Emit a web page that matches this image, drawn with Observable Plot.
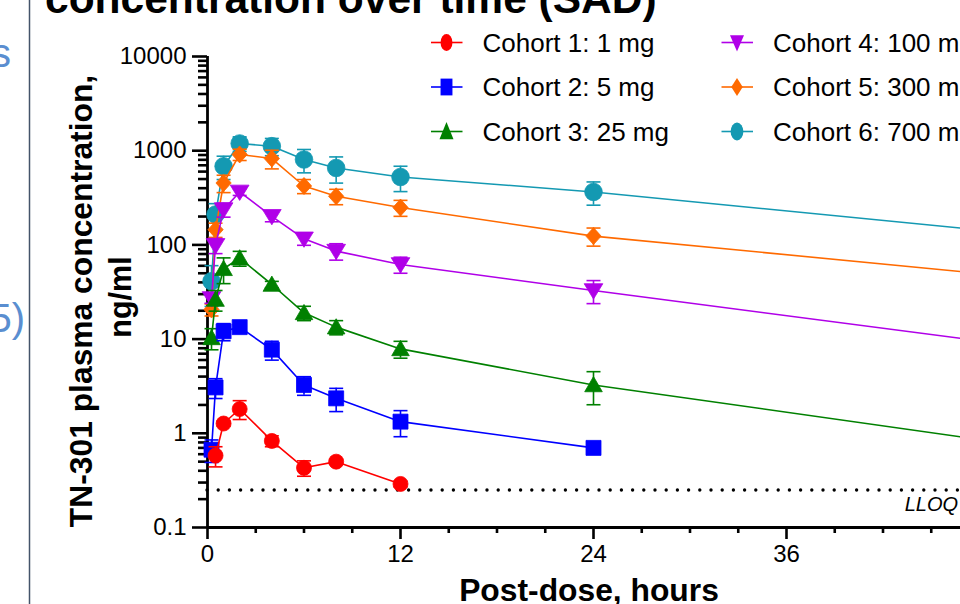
<!DOCTYPE html>
<html><head><meta charset="utf-8">
<script src="https://cdn.jsdelivr.net/npm/d3@7"></script>
<script src="https://cdn.jsdelivr.net/npm/@observablehq/plot@0.6"></script>
<style>
body{margin:0;background:#fff;overflow:hidden}
#wrap{position:relative;width:960px;height:604px;overflow:hidden;font-family:"Liberation Sans",Arial,sans-serif;background:#fff}
#wrap svg{position:absolute;left:0;top:0;max-width:none !important}
</style></head><body><div id="wrap"></div>
<script>
// ---- data ----
const times = [0.25, 0.5, 1, 2, 4, 6, 8, 12, 24, 48];
const cohortNames = ["Cohort 1: 1 mg","Cohort 2: 5 mg","Cohort 3: 25 mg","Cohort 4: 100 mg","Cohort 5: 300 mg","Cohort 6: 700 mg"];
const colors = ["#ff0000","#0000ff","#008000","#b000e8","#ff6a00","#1499b2"];
const c1Mean = [null, 0.58, 1.27, 1.81, 0.83, 0.43, 0.50, 0.29, null, null];
const c1SD   = [null, 0.14, 0.08, 0.41, 0.11, 0.08, 0.03, 0.02, null, null];
const c2Mean = [0.67, 3.07, 12.1, 13.4, 7.73, 3.26, 2.35, 1.33, 0.70, null];
const c2SD   = [0.18, 0.73, 2.5, 0.8, 1.75, 0.73, 0.65, 0.41, 0.08, null];
const c3Mean = [10.3, 26.3, 55.8, 72.4, 38, 19.0, 13.4, 7.87, 3.26, 0.86];
const c3SD   = [2.6, 6.5, 17, 13, 3, 3.3, 2.3, 1.6, 1.25, null];
const c4Mean = [27.0, 98.8, 237, 365, 201, 116, 85.9, 62, 32.8, 9.6];
const c4SD   = [3, 18, 40, 30, 25, 17, 17, 12, 9, null];
const c5Mean = [20.6, 145, 454, 912, 826, 422, 328, 249, 124, 49.9];
const c5SD   = [3, 25, 95, 125, 185, 72, 61, 48, 27, null];
const c6Mean = [41.2, 210, 684, 1193, 1117, 806, 656, 526, 365, 144];
const c6SD   = [19, 64, 190, 210, 232, 224, 203, 158, 101, null];
const lloq = 0.25;
const xMajorTicks = [0, 12, 24, 36, 48];
const xMinorTicks = [3, 6, 9, 15, 18, 21, 27, 30, 33, 39, 42, 45];
const yMajorTicks = [0.1, 1, 10, 100, 1000, 10000];
const yTickLabels = ["0.1", "1", "10", "100", "1000", "10000"];
const yMinorTicks = [0.2,0.3,0.4,0.5,0.6,0.7,0.8,0.9,2,3,4,5,6,7,8,9,20,30,40,50,60,70,80,90,200,300,400,500,600,700,800,900,2000,3000,4000,5000,6000,7000,8000,9000];

const means = [c1Mean, c2Mean, c3Mean, c4Mean, c5Mean, c6Mean];
const sds = [c1SD, c2SD, c3SD, c4SD, c5SD, c6SD];

// ---- symbols ----
const rOf = s => Math.sqrt(s / Math.PI);
const symCircle = {draw(c, s){ const r = rOf(s); c.moveTo(r,0); c.arc(0,0,r,0,2*Math.PI); }};
const symSquare = {draw(c, s){ const r = rOf(s); c.rect(-r,-r,2*r,2*r); }};
const symTriUp = {draw(c, s){ const r = rOf(s); c.moveTo(0,-r*1.05); c.lineTo(r*1.1,r*0.85); c.lineTo(-r*1.1,r*0.85); c.closePath(); }};
const symTriDown = {draw(c, s){ const r = rOf(s); c.moveTo(0,r*1.0); c.lineTo(r*1.1,-r*0.8); c.lineTo(-r*1.1,-r*0.8); c.closePath(); }};
const symDiamond = {draw(c, s){ const r = rOf(s); c.moveTo(0,-r); c.lineTo(r*0.9,0); c.lineTo(0,r); c.lineTo(-r*0.9,0); c.closePath(); }};
const symCap = {draw(c, s){ const r = rOf(s); c.moveTo(-r,0); c.lineTo(r,0); }};
const symbols = [symCircle, symSquare, symTriUp, symTriDown, symDiamond, symCircle];
const symR = [7.5, 7.5, 8, 8.5, 8.5, 8.8];

// ---- rows ----
const series = means.map((m, i) => times.map((t, j) => ({
  cohort: cohortNames[i], t, mean: m[j], sd: sds[i][j],
  lo: m[j] != null && sds[i][j] != null ? Math.max(m[j] - sds[i][j], 1e-3) : null,
  hi: m[j] != null && sds[i][j] != null ? m[j] + sds[i][j] : null
})).filter(d => d.mean != null));

const seriesMarks = [];
for (let i = 5; i >= 0; i--) {
  const rows = series[i];
  const err = rows.filter(d => d.sd != null);
  const col = colors[i];
  seriesMarks.push(
    Plot.line(rows, {x: "t", y: "mean", stroke: col, strokeWidth: 1.6}),
    Plot.ruleX(err, {x: "t", y1: "lo", y2: "hi", stroke: col, strokeWidth: 1.6}),
    Plot.dot(err, {x: "t", y: "hi", symbol: symCap, r: 7, stroke: col, strokeWidth: 1.6, fill: "none"}),
    Plot.dot(err, {x: "t", y: "lo", symbol: symCap, r: 7, stroke: col, strokeWidth: 1.6, fill: "none"}),
    Plot.dot(rows, {x: "t", y: "mean", symbol: symbols[i], r: symR[i], fill: col, stroke: col, strokeWidth: 0.8})
  );
}

const font = '"Liberation Sans", Arial, sans-serif';
const plot = Plot.plot({
  width: 1000, height: 604,
  marginLeft: 207, marginRight: 21, marginTop: 56, marginBottom: 77,
  x: {domain: [0, 48], label: null},
  y: {type: "log", domain: [0.1, 10000], label: null},
  style: {fontFamily: font, fontSize: "24px", color: "#000", background: "transparent", overflow: "visible", maxWidth: "none"},
  marks: [
    Plot.ruleY([lloq], {stroke: "#000", strokeWidth: 3.4, strokeDasharray: "0 11.2", strokeLinecap: "round"}),
    Plot.axisX({ticks: xMajorTicks, tickSize: 12, tickPadding: 5, strokeWidth: 2.6, fontSize: 24, tickFormat: d => String(d), label: null}),
    Plot.axisX({ticks: xMinorTicks, tickSize: 6, strokeWidth: 2.6, tickFormat: () => "", label: null}),
    Plot.axisY({ticks: yMajorTicks, tickSize: 15, tickPadding: 6, strokeWidth: 2.6, fontSize: 24, tickFormat: d => yTickLabels[yMajorTicks.indexOf(d)], label: null}),
    Plot.axisY({ticks: yMinorTicks, tickSize: 9, strokeWidth: 2.6, tickFormat: () => "", label: null}),
    Plot.ruleY([0.1], {stroke: "#000", strokeWidth: 2.8}),
    Plot.ruleX([0], {stroke: "#000", strokeWidth: 2.8}),
    ...seriesMarks
  ]
});
plot.style.maxWidth = "none";
plot.style.width = "1000px";
plot.style.height = "604px";
const wrap = document.getElementById("wrap");
wrap.appendChild(plot);

// ---- overlay: title, side text, labels, legend ----
const ys = plot.scale("y");
const ov = d3.select(wrap).append("svg").attr("width", 960).attr("height", 604)
  .style("font-family", font);
ov.append("line").attr("x1", 29.5).attr("x2", 29.5).attr("y1", 0).attr("y2", 604)
  .attr("stroke", "#44546a").attr("stroke-width", 1.5);
ov.append("text").attr("x", 11).attr("y", 67).attr("text-anchor", "end")
  .attr("font-size", 40).attr("fill", "#5a8ed0").text("s");
ov.append("text").attr("x", 25).attr("y", 332).attr("text-anchor", "end")
  .attr("font-size", 40).attr("fill", "#5a8ed0").text("5)");
ov.append("text").attr("x", 45).attr("y", 13).attr("font-size", 42.5).attr("font-weight", "bold")
  .text("concentration over time (SAD)");
ov.append("text").attr("transform", "translate(92,301) rotate(-90)").attr("text-anchor", "middle")
  .attr("font-size", 31.8).attr("font-weight", "bold").text("TN-301 plasma concentration,");
ov.append("text").attr("transform", "translate(131,297) rotate(-90)").attr("text-anchor", "middle")
  .attr("font-size", 30.5).attr("font-weight", "bold").text("ng/ml");
ov.append("text").attr("x", 589).attr("y", 601).attr("text-anchor", "middle")
  .attr("font-size", 31.8).attr("font-weight", "bold").text("Post-dose, hours");
ov.append("text").attr("x", 958).attr("y", ys.apply(lloq) + 21).attr("text-anchor", "end")
  .attr("font-size", 20).attr("font-style", "italic").text("LLOQ");

const legR = [7, 7, 7.5, 7.5, 7.5, 7.5];
cohortNames.forEach((name, i) => {
  const col = Math.floor(i / 3), row = i % 3;
  const g = ov.append("g").attr("transform", `translate(${col ? 737 : 446.5},${42.5 + row * 44.5})`);
  g.append("line").attr("x1", -15.5).attr("x2", 16).attr("stroke", colors[i]).attr("stroke-width", 1.6);
  const p = d3.path();
  symbols[i].draw(p, Math.PI * legR[i] * legR[i]);
  g.append("path").attr("d", p.toString()).attr("transform", "scale(0.85,1.2)").attr("fill", colors[i]);
  g.append("text").attr("x", 36).attr("y", 9).attr("font-size", 26).text(name);
});
</script></body></html>
